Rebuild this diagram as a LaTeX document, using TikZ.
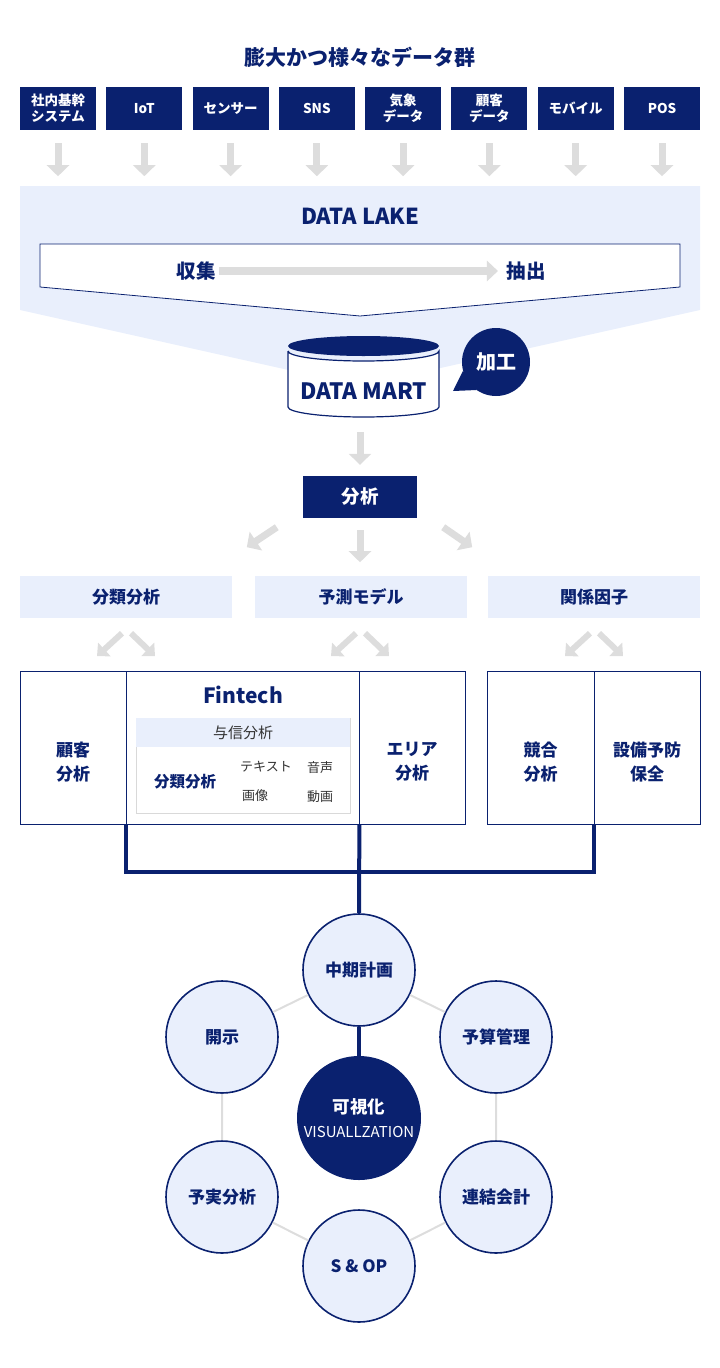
\documentclass[tikz,border=0pt]{standalone}
\usepackage{fontspec}
\setmainfont{Noto Sans CJK JP}
\usetikzlibrary{arrows.meta}
\definecolor{navy}{HTML}{0A216F}
\definecolor{paleblue}{HTML}{E9EFFC}
\definecolor{arrowgray}{HTML}{DDDDDD}
\definecolor{inktext}{HTML}{333333}
\newcommand{\fsz}[2]{\fontsize{#1}{#2}\selectfont}

\begin{document}
\begin{tikzpicture}[x=1pt, y=-1pt,
    srcbox/.style={fill=navy, text=white, font=\bfseries\fsz{13.5}{16}, minimum width=76pt, minimum height=43pt, inner sep=0pt, align=center},
    bigarrow/.style={draw=arrowgray, line width=7pt, -{Triangle[width=22pt,length=11pt]}},
    smallarrow/.style={draw=arrowgray, line width=6pt, -{Triangle[width=18pt,length=10pt]}},
    lightbox/.style={fill=paleblue, text=navy, font=\bfseries\fsz{17}{20}, minimum width=212pt, minimum height=42pt, inner sep=0pt},
    cell/.style={draw=navy, line width=0.8pt, minimum height=153pt, inner sep=0pt},
    celltext/.style={text=navy, font=\bfseries\fsz{17}{24}, align=center},
    subtext/.style={text=inktext, font=\fsz{13}{16}},
    ring/.style={circle, draw=navy, line width=1.6pt, fill=paleblue, minimum size=112pt, inner sep=0pt, text=navy, font=\bfseries\fsz{17}{20}},
    hexline/.style={draw=arrowgray, line width=2pt},
    trunk/.style={draw=navy, line width=4pt}
]
    \useasboundingbox (0,0) rectangle (720,1368);

    % data sources
    \node[text=navy, font=\bfseries\fsz{21}{24}] (title) at (360,57) {膨大かつ様々なデータ群};
    \node[srcbox] (s1) at (58,108.5) {社内基幹\\システム};
    \node[srcbox] (s2) at (144.3,108.5) {IoT};
    \node[srcbox] (s3) at (230.6,108.5) {センサー};
    \node[srcbox] (s4) at (316.9,108.5) {SNS};
    \node[srcbox] (s5) at (403.1,108.5) {気象\\データ};
    \node[srcbox] (s6) at (489.4,108.5) {顧客\\データ};
    \node[srcbox] (s7) at (575.7,108.5) {モバイル};
    \node[srcbox] (s8) at (662,108.5) {POS};
    \draw[bigarrow] ([yshift=-13pt]s1.south) -- ++(0,33);
    \draw[bigarrow] ([yshift=-13pt]s2.south) -- ++(0,33);
    \draw[bigarrow] ([yshift=-13pt]s3.south) -- ++(0,33);
    \draw[bigarrow] ([yshift=-13pt]s4.south) -- ++(0,33);
    \draw[bigarrow] ([yshift=-13pt]s5.south) -- ++(0,33);
    \draw[bigarrow] ([yshift=-13pt]s6.south) -- ++(0,33);
    \draw[bigarrow] ([yshift=-13pt]s7.south) -- ++(0,33);
    \draw[bigarrow] ([yshift=-13pt]s8.south) -- ++(0,33);

    % data lake
    \fill[paleblue] (20,186) -- (700,186) -- (700,310) -- (360,386) -- (20,310) -- cycle;
    \draw[navy, line width=0.8pt, fill=white] (40,244) -- (680,244) -- (680,287) -- (360,316) -- (40,287) -- cycle;
    \node[text=navy, font=\bfseries\fsz{22}{26}] (lake) at (360,216) {DATA LAKE};
    \node[text=navy, font=\bfseries\fsz{19.5}{22}] (collect) at (196,271) {収集};
    \node[text=navy, font=\bfseries\fsz{19.5}{22}] (extract) at (526,271) {抽出};
    \draw[draw=arrowgray, line width=8pt, -{Triangle[width=20pt,length=11pt]}, shorten >=5pt] (collect) -- (extract);

    % data mart
    \draw[navy, line width=1.2pt, fill=white] (288,351) -- (288,407) arc[start angle=180, end angle=360, x radius=75.5pt, y radius=10pt] -- (439,351) arc[start angle=0, end angle=-180, x radius=75.5pt, y radius=10pt];
    \fill[navy] (363.5,346) ellipse[x radius=75.5pt, y radius=10pt];
    \node[text=navy, font=\bfseries\fsz{22.5}{26}] (mart) at (363.5,391) {DATA MART};
    \coordinate (martbot) at (360,432);
    \node[circle, fill=navy, text=white, minimum size=68pt, inner sep=0pt, font=\bfseries\fsz{20}{24}] (kako) at (496,362) {加工};
    \fill[navy] (kako.195) -- (453,391) -- (kako.235) -- cycle;

    % analysis
    \node[fill=navy, text=white, minimum width=114pt, minimum height=42pt, inner sep=0pt, font=\bfseries\fsz{18.5}{22}] (ana) at (360,497) {分析};
    \draw[bigarrow] (martbot) -- ([yshift=11pt]ana.north);
    \draw[bigarrow] ([shift={(-26,9)}]ana.south west) -- ++(-30,20);
    \draw[bigarrow] ([shift={(0,12)}]ana.south) -- ++(0,32);
    \draw[bigarrow] ([shift={(26,9)}]ana.south east) -- ++(29,20);

    \node[lightbox] (bunrui) at (126,597) {分類分析};
    \node[lightbox] (yosoku) at (361,597) {予測モデル};
    \node[lightbox] (kankei) at (594,597) {関係因子};
    \draw[smallarrow] ([shift={(-4,15)}]bunrui.south) -- ++(-25,23);
    \draw[smallarrow] ([shift={(5,15)}]bunrui.south) -- ++(24,23);
    \draw[smallarrow] ([shift={(-5,15)}]yosoku.south) -- ++(-25,23);
    \draw[smallarrow] ([shift={(4,15)}]yosoku.south) -- ++(24,23);
    \draw[smallarrow] ([shift={(-4,15)}]kankei.south) -- ++(-25,23);
    \draw[smallarrow] ([shift={(5,15)}]kankei.south) -- ++(24,23);

    % result cells
    \node[cell, minimum width=106pt] (kokyaku) at (73,747.5) {};
    \node[cell, minimum width=233pt] (fintech) at (242.5,747.5) {};
    \node[cell, minimum width=106pt] (area) at (412,747.5) {};
    \node[cell, minimum width=107pt] (kyogo) at (540.5,747.5) {};
    \node[cell, minimum width=106pt] (setsubi) at (647,747.5) {};
    \node[celltext] at (73,762) {顧客\\分析};
    \node[celltext] at (412,762) {エリア\\分析};
    \node[celltext] at (540.5,762) {競合\\分析};
    \node[celltext] at (647,762) {設備予防\\保全};
    \node[text=navy, font=\bfseries\fsz{21}{24}] (fintitle) at (243,695) {Fintech};
    \draw[draw=black!15, line width=0.8pt, fill=white] (136,718) rectangle (350,813);
    \fill[paleblue] (136,718) rectangle (350,747);
    \node[text=inktext, font=\fsz{15}{18}] (yoshin) at (243,733) {与信分析};
    \node[text=navy, font=\bfseries\fsz{15.5}{18}] (finbunrui) at (185,782) {分類分析};
    \node[subtext] (text) at (266,767) {テキスト};
    \node[subtext] (voice) at (320,768) {音声};
    \node[subtext] (image) at (255,796) {画像};
    \node[subtext] (video) at (320,797) {動画};

    % visualization
    \node[ring] (chuki) at (359,970) {中期計画};
    \node[ring] (yosan) at (496,1037) {予算管理};
    \node[ring] (renketsu) at (496,1197) {連結会計};
    \node[ring] (sop) at (359,1266) {S \& OP};
    \node[ring] (yojitsu) at (222,1197) {予実分析};
    \node[ring] (kaiji) at (222,1037) {開示};
    \node[circle, fill=navy, minimum size=124pt, inner sep=0pt, text=white, align=center, font=\fsz{15}{24}] (viz) at (359,1118) {{\bfseries\fsz{17.5}{24}可視化}\\VISUALLZATION};
    \draw[hexline] (chuki) -- (yosan) (yosan) -- (renketsu) (renketsu) -- (sop)
        (sop) -- (yojitsu) (yojitsu) -- (kaiji) (kaiji) -- (chuki);

    \draw[trunk] (fintech.south west) -- ++(0,48) -| (kyogo.south east);
    \draw[trunk] (fintech.south east) -- (chuki.north);
    \draw[trunk] (chuki) -- (viz);
\end{tikzpicture}
\end{document}
